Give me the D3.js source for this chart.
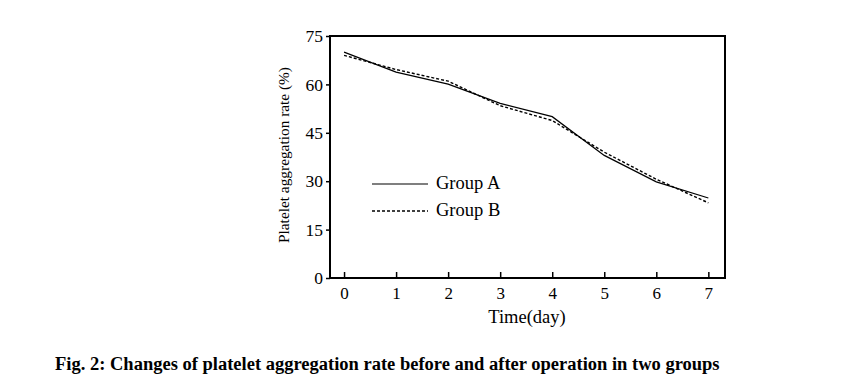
<!DOCTYPE html>
<html><head><meta charset="utf-8">
<script src="https://cdn.jsdelivr.net/npm/d3@7"></script>
<style>body{margin:0;background:#fff}svg{display:block}</style>
</head><body>
<script>
const days = [0,1,2,3,4,5,6,7];
const groupA = [70,63.8,60.1,54.1,50.0,38.0,29.8,24.8];
const groupB = [69,64.6,61.0,53.4,48.8,39.0,30.6,23.3];
const yTicks = [0,15,30,45,60,75];
const seriesNames = ["Group A","Group B"];
const caption = "Fig. 2: Changes of platelet aggregation rate before and after operation in two groups";

const W=851,H=382;
const svg=d3.select("body").append("svg").attr("width",W).attr("height",H);
const L=330,R=725,T=36,B=278;
const x=d3.scaleLinear().domain([-0.27,7.32]).range([L,R]);
const y=d3.scaleLinear().domain([0,75]).range([B,T]);
const font="'Liberation Serif','Times New Roman',serif";

svg.append("rect").attr("x",L).attr("y",T).attr("width",R-L).attr("height",B-T)
  .attr("fill","none").attr("stroke","#000").attr("stroke-width",2);

const xa=svg.append("g").attr("transform",`translate(0,${B})`)
  .call(d3.axisBottom(x).tickValues(days).tickSize(-6).tickPadding(9).tickFormat(d3.format("d")));
xa.select(".domain").remove();
xa.selectAll("line").attr("stroke","#000").attr("stroke-width",1.5);
xa.selectAll("text").attr("font-family",font).attr("font-size",17).attr("fill","#000");

const ya=svg.append("g").attr("transform",`translate(${L},0)`)
  .call(d3.axisLeft(y).tickValues(yTicks).tickSize(4).tickPadding(3));
ya.select(".domain").remove();
ya.selectAll("line").attr("stroke","#000").attr("stroke-width",1.5);
ya.selectAll("text").attr("font-family",font).attr("font-size",17.5).attr("fill","#000");

const line=d3.line().x((d,i)=>x(days[i])).y(d=>y(d));
svg.append("path").datum(groupA).attr("d",line).attr("fill","none").attr("stroke","#000").attr("stroke-width",1.2);
svg.append("path").datum(groupB).attr("d",line).attr("fill","none").attr("stroke","#000").attr("stroke-width",1.4).attr("stroke-dasharray","3,2");

const leg=[{n:seriesNames[0],dash:null,yy:184},{n:seriesNames[1],dash:"3,2",yy:211}];
leg.forEach(l=>{
  svg.append("line").attr("x1",372).attr("x2",428).attr("y1",l.yy).attr("y2",l.yy)
    .attr("stroke","#000").attr("stroke-width",l.dash?1.4:1.2).attr("stroke-dasharray",l.dash);
  svg.append("text").attr("x",436).attr("y",l.yy+5).text(l.n)
    .attr("font-family",font).attr("font-size",18.5);
});

svg.append("text").attr("x",527).attr("y",323).attr("text-anchor","middle").text("Time(day)")
  .attr("font-family",font).attr("font-size",18.5);
svg.append("text").attr("transform","translate(289,155) rotate(-90)").attr("text-anchor","middle")
  .text("Platelet aggregation rate (%)").attr("font-family",font).attr("font-size",15.5)
  .attr("textLength",176).attr("lengthAdjust","spacingAndGlyphs");

svg.append("text").attr("x",55).attr("y",370).text(caption)
  .attr("font-family",font).attr("font-size",18.5).attr("font-weight","bold");
</script>
</body></html>
